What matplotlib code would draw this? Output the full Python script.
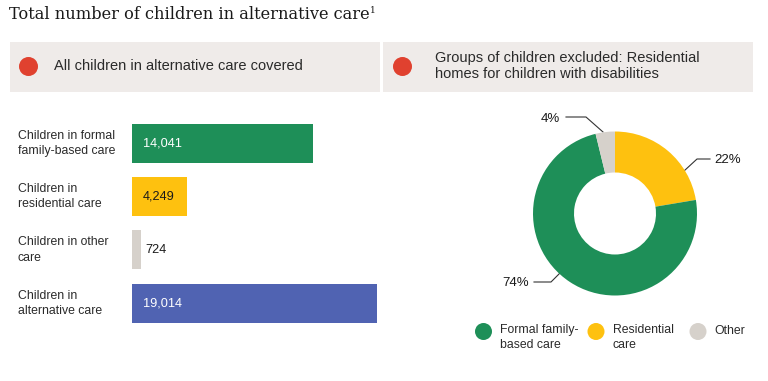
import matplotlib
matplotlib.use("Agg")
import matplotlib.pyplot as plt
import matplotlib.transforms as mtransforms
from matplotlib.patches import Rectangle, Circle
import numpy as np

plt.rcParams['font.family'] = ['Liberation Sans', 'DejaVu Sans']

# ---- data ----
title = "Total number of children in alternative care"
bar_labels = ["Children in formal\nfamily-based care", "Children in\nresidential care",
              "Children in other\ncare", "Children in\nalternative care"]
bar_values = [14041, 4249, 724, 19014]
bar_colors = ["#1e8f58", "#fec10f", "#d6d1cb", "#5063b2"]
bar_text_colors = ["white", "#1a1a1a", "#1a1a1a", "white"]

pie_labels = ["Residential\ncare", "Formal family-\nbased care", "Other"]
pie_values = [4249, 14041, 724]
pie_pct_labels = ["22%", "74%", "4%"]
pie_colors = ["#fec10f", "#1e8f58", "#d6d1cb"]

header_left = "All children in alternative care covered"
header_right = "Groups of children excluded: Residential\nhomes for children with disabilities"

W, H = 768, 381
fig = plt.figure(figsize=(W / 100, H / 100), dpi=100)
fig.patch.set_facecolor("white")

# overlay axes in pixel coordinates
ov = fig.add_axes([0, 0, 1, 1])
ov.set_xlim(0, W)
ov.set_ylim(H, 0)
ov.axis("off")

def px_axes(x0, y0, x1, y1):
    return fig.add_axes([x0 / W, 1 - y1 / H, (x1 - x0) / W, (y1 - y0) / H])

# title
serif = ['DejaVu Serif']
t = ov.text(9, 14.5, title, fontsize=11.7, family=serif,
            ha="left", va="center", color="#1a1a1a")
fig.canvas.draw()
bb = t.get_window_extent()
ov.annotate("1", xy=(bb.x1, bb.y1), xycoords="figure pixels", xytext=(0.5, 0),
            textcoords="offset points", fontsize=6.5, family=serif,
            ha="left", va="top", color="#1a1a1a")

# header boxes
box_color = "#efebe9"
red = "#e0412f"
ov.add_patch(Rectangle((10, 42), 370, 50, facecolor=box_color, edgecolor="none"))
ov.add_patch(Rectangle((383, 42), 370, 50, facecolor=box_color, edgecolor="none"))
ov.add_patch(Circle((28.5, 66.5), 9.5, facecolor=red, edgecolor="none"))
ov.add_patch(Circle((402.5, 66.5), 9.5, facecolor=red, edgecolor="none"))
ov.text(54, 66.5, header_left, fontsize=10.5, ha="left", va="center", color="#2a2a2a")
ov.text(435, 66, header_right, fontsize=10.5, ha="left", va="center", color="#2a2a2a",
        linespacing=1.25)

# ---- bar chart ----
ax = px_axes(132, 117, 377, 329.7)
y = np.arange(len(bar_values))
ax.barh(y, bar_values, height=0.735, color=bar_colors)
ax.set_xlim(0, max(bar_values))
ax.set_ylim(len(bar_values) - 0.5, -0.5)
ax.axis("off")

blend = mtransforms.blended_transform_factory(ov.transData, ax.transData)
for i, (lab, v, tc) in enumerate(zip(bar_labels, bar_values, bar_text_colors)):
    ov.text(18, i, lab, transform=blend, fontsize=8.8, ha="left", va="center",
            color="#2a2a2a", linespacing=1.35)
    if v / max(bar_values) > 0.1:
        ax.annotate(f"{v:,}", xy=(0, i), xytext=(8, 0), textcoords="offset points",
                    ha="left", va="center", fontsize=9.2, color=tc)
    else:
        ax.annotate(f"{v:,}", xy=(v, i), xytext=(3, 0), textcoords="offset points",
                    ha="left", va="center", fontsize=9.2, color=tc)

# ---- donut ----
cx, cy, r = 615, 213.5, 82
pax = px_axes(cx - 100, cy - 100, cx + 100, cy + 100)
pax.pie(pie_values, colors=pie_colors, startangle=90, counterclock=False, radius=1,
        wedgeprops=dict(width=0.5, edgecolor="none"))
pax.set_xlim(-100 / r, 100 / r)
pax.set_ylim(-100 / r, 100 / r)
pax.set_aspect("equal")
pax.axis("off")

# leader lines and percentage labels (pixel coordinates)
lc = "#333333"
ov.plot([684, 697, 710], [171, 159, 159], color=lc, lw=0.8)
ov.text(714, 160, pie_pct_labels[0], fontsize=9.5, ha="left", va="center", color="#1a1a1a")
ov.plot([534, 551, 560], [282, 282, 273], color=lc, lw=0.8)
ov.text(529, 283, pie_pct_labels[1], fontsize=9.5, ha="right", va="center", color="#1a1a1a")
ov.plot([566, 586, 603], [117, 117, 132], color=lc, lw=0.8)
ov.text(560, 118.5, pie_pct_labels[2], fontsize=9.5, ha="right", va="center", color="#1a1a1a")

# legend
legend_order = [1, 0, 2]
legend_x = [483.5, 596, 698]
for lx, idx in zip(legend_x, legend_order):
    ov.add_patch(Circle((lx, 331.5), 8.5, facecolor=pie_colors[idx], edgecolor="none"))
    two = "\n" in pie_labels[idx]
    ov.text(lx + 16.5, 324 if two else 331, pie_labels[idx],
            fontsize=8.8, ha="left", va="top" if two else "center",
            color="#2a2a2a", linespacing=1.35)

fig.savefig("out.png", dpi=100, facecolor="white")
